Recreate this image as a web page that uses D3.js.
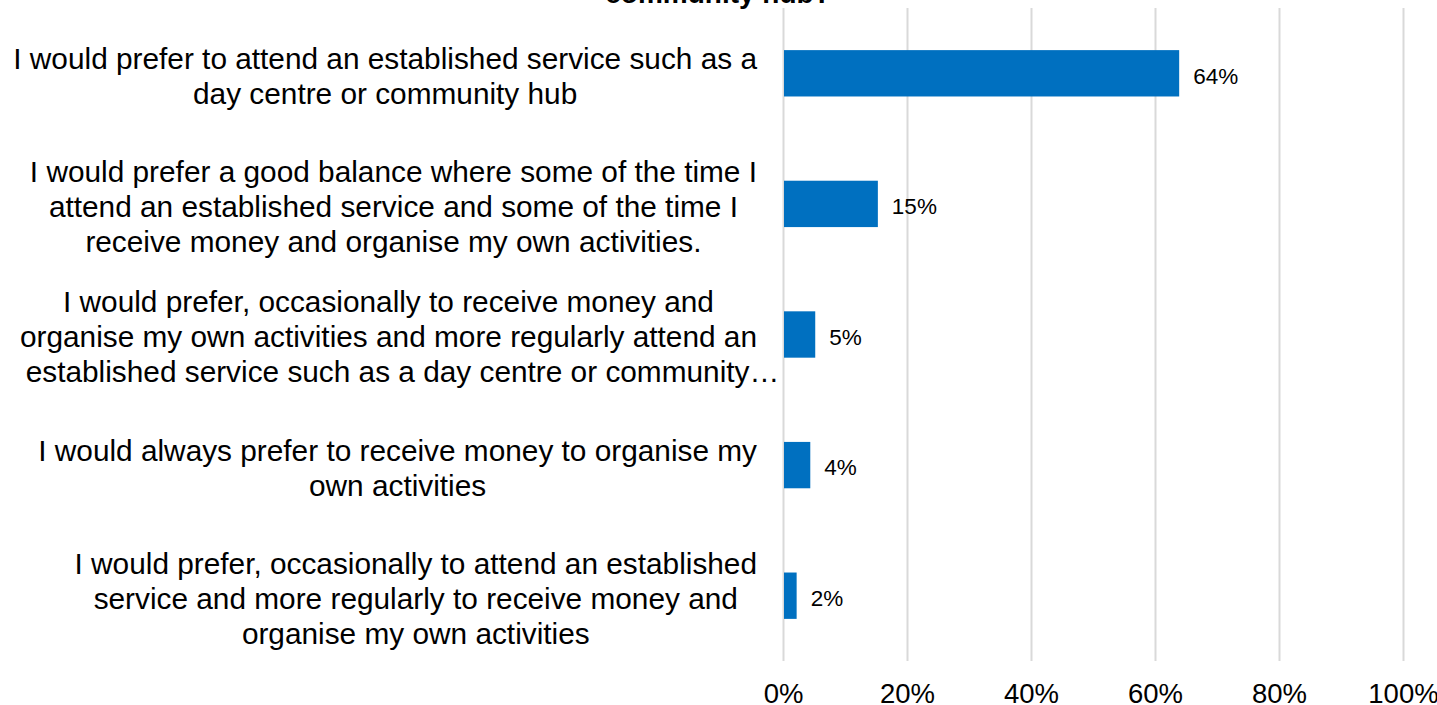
<!DOCTYPE html>
<html>
<head>
<meta charset="utf-8">
<script src="https://cdn.jsdelivr.net/npm/d3@7"></script>
<style>
  body { margin: 0; background: #fff; }
  svg { display: block; font-family: Arial, "Liberation Sans", sans-serif; }
</style>
</head>
<body>
<div id="chart"></div>
<script>
var categories = [
    ['I would prefer to attend an established service such as a', 'day centre or community hub'],
    ['I would prefer a good balance where some of the time I', 'attend an established service and some of the time I', 'receive money and organise my own activities.'],
    ['I would prefer, occasionally to receive money and', 'organise my own activities and more regularly attend an', 'established service such as a day centre or community\u2026'],
    ['I would always prefer to receive money to organise my', 'own activities'],
    ['I would prefer, occasionally to attend an established', 'service and more regularly to receive money and', 'organise my own activities']
];
var values = [0.639, 0.153, 0.052, 0.044, 0.022];
var value_labels = ['64%', '15%', '5%', '4%', '2%'];
var x_ticks = [0, 0.2, 0.4, 0.6, 0.8, 1];
var title_tail = 'community hub?';

var chart_width = 1437;
var chart_height = 705;
var plot_left = 783;
var plot_right = 1403;
var plot_top = 8;
var plot_bottom = 661;
var label_right = 757;

var svg = d3.select('#chart')
    .append('svg')
    .attr('width', chart_width)
    .attr('height', chart_height);

var x_scale = d3.scaleLinear()
    .domain([0, 1])
    .range([plot_left, plot_right]);

var y_scale = d3.scaleBand()
    .domain(d3.range(categories.length))
    .range([plot_top, plot_bottom])
    .paddingInner(0.645)
    .paddingOuter(0.3225);

// title, cut off by the top edge in the original
svg.append('text')
    .attr('x', 718)
    .attr('y', 3)
    .attr('text-anchor', 'middle')
    .style('font-weight', 'bold')
    .style('font-size', '28px')
    .style('fill', '#000')
    .text(title_tail);

// gridlines + tick labels
var x_axis = d3.axisBottom(x_scale)
    .tickValues(x_ticks)
    .tickSize(-(plot_bottom - plot_top))
    .tickFormat(d3.format('.0%'));

var gx = svg.append('g')
    .attr('class', 'x-axis')
    .attr('transform', 'translate(0,' + plot_bottom + ')')
    .call(x_axis);

gx.select('.domain').remove();
gx.selectAll('.tick line')
    .attr('stroke', '#d9d9d9')
    .attr('stroke-width', 2);
gx.selectAll('.tick text')
    .attr('y', 32)
    .attr('dy', '0.35em')
    .style('font-size', '27.5px')
    .style('font-family', 'Arial, "Liberation Sans", sans-serif')
    .style('fill', '#000');

// bars
svg.append('g')
    .selectAll('rect')
    .data(values)
    .enter()
    .append('rect')
    .attr('x', x_scale(0) + 1)
    .attr('y', function (d, i) { return y_scale(i); })
    .attr('width', function (d) { return x_scale(d) - x_scale(0) - 1; })
    .attr('height', y_scale.bandwidth())
    .attr('fill', '#0070c0');

// value labels
svg.append('g')
    .selectAll('text')
    .data(values)
    .enter()
    .append('text')
    .attr('x', function (d) { return x_scale(d) + 14; })
    .attr('y', function (d, i) { return y_scale(i) + y_scale.bandwidth() / 2 + 2.5; })
    .attr('dy', '0.35em')
    .style('font-size', '22.5px')
    .style('fill', '#000')
    .text(function (d, i) { return value_labels[i]; });

// category labels: lines centred inside a right aligned block
var line_height = 35;
var labels = svg.append('g').attr('class', 'cat-labels');
categories.forEach(function (lines, i) {
    var cy = y_scale(i) + y_scale.bandwidth() / 2 + 2.5;
    var g = labels.append('g');
    var texts = g.selectAll('text')
        .data(lines)
        .enter()
        .append('text')
        .attr('y', function (d, j) { return cy + (j - (lines.length - 1) / 2) * line_height; })
        .attr('dy', '0.35em')
        .attr('text-anchor', 'middle')
        .style('font-size', '29.8px')
        .style('fill', '#000')
        .text(function (d) { return d; });
    // truncated lines (ending in an ellipsis) don't widen the block
    var max_w = 0;
    texts.each(function (d) {
        if (d.slice(-1) !== '\u2026') max_w = Math.max(max_w, this.getComputedTextLength());
    });
    texts.attr('x', function (d) {
        return label_right - max_w / 2 + (d.slice(-1) === '\u2026' ? 14 : 0);
    });
});
</script>
</body>
</html>
